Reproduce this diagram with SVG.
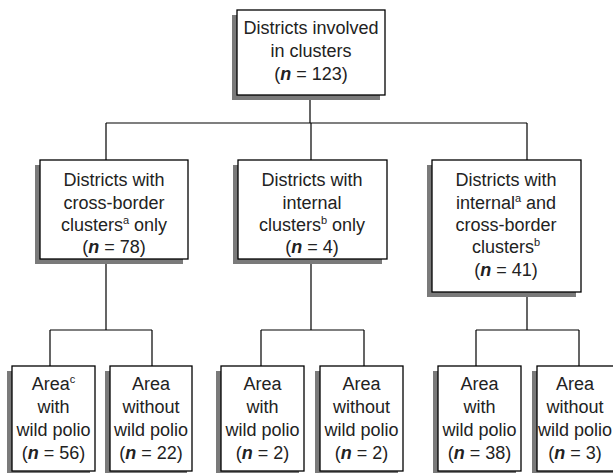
<svg xmlns="http://www.w3.org/2000/svg" width="613" height="473" viewBox="0 0 613 473">
<style>
.box{fill:#fff;stroke:#000;stroke-width:1.3}
.sh{fill:#7a7a7a}
.t{font-family:"Liberation Sans",Arial,sans-serif;font-size:18px;fill:#222;text-anchor:middle}
.n{font-style:italic;font-weight:bold}
.sup{font-size:11px}
.c{stroke:#000;stroke-width:1.2;fill:none}
</style>
<rect width="613" height="473" fill="#fff"/>
<g id="connectors">
<path class="c" d="M310,95V123M106,123H527M106,123V160M311,123V160M527,123V160"/>
<path class="c" d="M106,259V330M50,330H152M50,330V366M152,330V366"/>
<path class="c" d="M311,259V330M261,330H364M261,330V366M364,330V366"/>
<path class="c" d="M527,292V330M476,330H579M476,330V366M579,330V366"/>
</g>
<g id="top">
<rect class="sh" x="232" y="15" width="148" height="85"/>
<rect class="box" x="237" y="10" width="148" height="85"/>
<text class="t" x="311" y="34">Districts involved</text>
<text class="t" x="311" y="57">in clusters</text>
<text class="t" x="311" y="80">(<tspan class="n">n</tspan> = 123)</text>
</g>
<g id="crossborder">
<rect class="sh" x="35" y="165" width="148" height="99"/>
<rect class="box" x="40" y="160" width="148" height="99"/>
<text class="t" x="114" y="186">Districts with</text>
<text class="t" x="114" y="209">cross-border</text>
<text class="t" x="114" y="231">clusters<tspan class="sup" dy="-7">a</tspan><tspan dy="7"> only</tspan></text>
<text class="t" x="114" y="253">(<tspan class="n">n</tspan> = 78)</text>
</g>
<g id="internal">
<rect class="sh" x="233" y="165" width="149" height="99"/>
<rect class="box" x="238" y="160" width="149" height="99"/>
<text class="t" x="312" y="186">Districts with</text>
<text class="t" x="312" y="209">internal</text>
<text class="t" x="312" y="231">clusters<tspan class="sup" dy="-7">b</tspan><tspan dy="7"> only</tspan></text>
<text class="t" x="312" y="253">(<tspan class="n">n</tspan> = 4)</text>
</g>
<g id="both">
<rect class="sh" x="427" y="165" width="149" height="132"/>
<rect class="box" x="432" y="160" width="149" height="132"/>
<text class="t" x="506" y="186">Districts with</text>
<text class="t" x="506" y="209">internal<tspan class="sup" dy="-7">a</tspan><tspan dy="7"> and</tspan></text>
<text class="t" x="506" y="231">cross-border</text>
<text class="t" x="506" y="253">clusters<tspan class="sup" dy="-7">b</tspan></text>
<text class="t" x="506" y="276">(<tspan class="n">n</tspan> = 41)</text>
</g>
<g id="a1">
<rect class="sh" x="7" y="371" width="83" height="105"/>
<rect class="box" x="12" y="366" width="83" height="105"/>
<text class="t" x="53.5" y="390">Area<tspan class="sup" dy="-7">c</tspan></text>
<text class="t" x="53.5" y="413">with</text>
<text class="t" x="53.5" y="436">wild polio</text>
<text class="t" x="53.5" y="459">(<tspan class="n">n</tspan> = 56)</text>
</g>
<g id="a2">
<rect class="sh" x="105" y="371" width="82" height="105"/>
<rect class="box" x="110" y="366" width="82" height="105"/>
<text class="t" x="151" y="390">Area</text>
<text class="t" x="151" y="413">without</text>
<text class="t" x="151" y="436">wild polio</text>
<text class="t" x="151" y="459">(<tspan class="n">n</tspan> = 22)</text>
</g>
<g id="a3">
<rect class="sh" x="216" y="371" width="83" height="105"/>
<rect class="box" x="221" y="366" width="83" height="105"/>
<text class="t" x="262.5" y="390">Area</text>
<text class="t" x="262.5" y="413">with</text>
<text class="t" x="262.5" y="436">wild polio</text>
<text class="t" x="262.5" y="459">(<tspan class="n">n</tspan> = 2)</text>
</g>
<g id="a4">
<rect class="sh" x="315" y="371" width="83" height="105"/>
<rect class="box" x="320" y="366" width="83" height="105"/>
<text class="t" x="361.5" y="390">Area</text>
<text class="t" x="361.5" y="413">without</text>
<text class="t" x="361.5" y="436">wild polio</text>
<text class="t" x="361.5" y="459">(<tspan class="n">n</tspan> = 2)</text>
</g>
<g id="a5">
<rect class="sh" x="433" y="371" width="83" height="105"/>
<rect class="box" x="438" y="366" width="83" height="105"/>
<text class="t" x="479.5" y="390">Area</text>
<text class="t" x="479.5" y="413">with</text>
<text class="t" x="479.5" y="436">wild polio</text>
<text class="t" x="479.5" y="459">(<tspan class="n">n</tspan> = 38)</text>
</g>
<g id="a6">
<rect class="sh" x="532" y="371" width="83" height="105"/>
<rect class="box" x="537" y="366" width="83" height="105"/>
<text class="t" x="575" y="390">Area</text>
<text class="t" x="575" y="413">without</text>
<text class="t" x="575" y="436">wild polio</text>
<text class="t" x="575" y="459">(<tspan class="n">n</tspan> = 3)</text>
</g>
</svg>
